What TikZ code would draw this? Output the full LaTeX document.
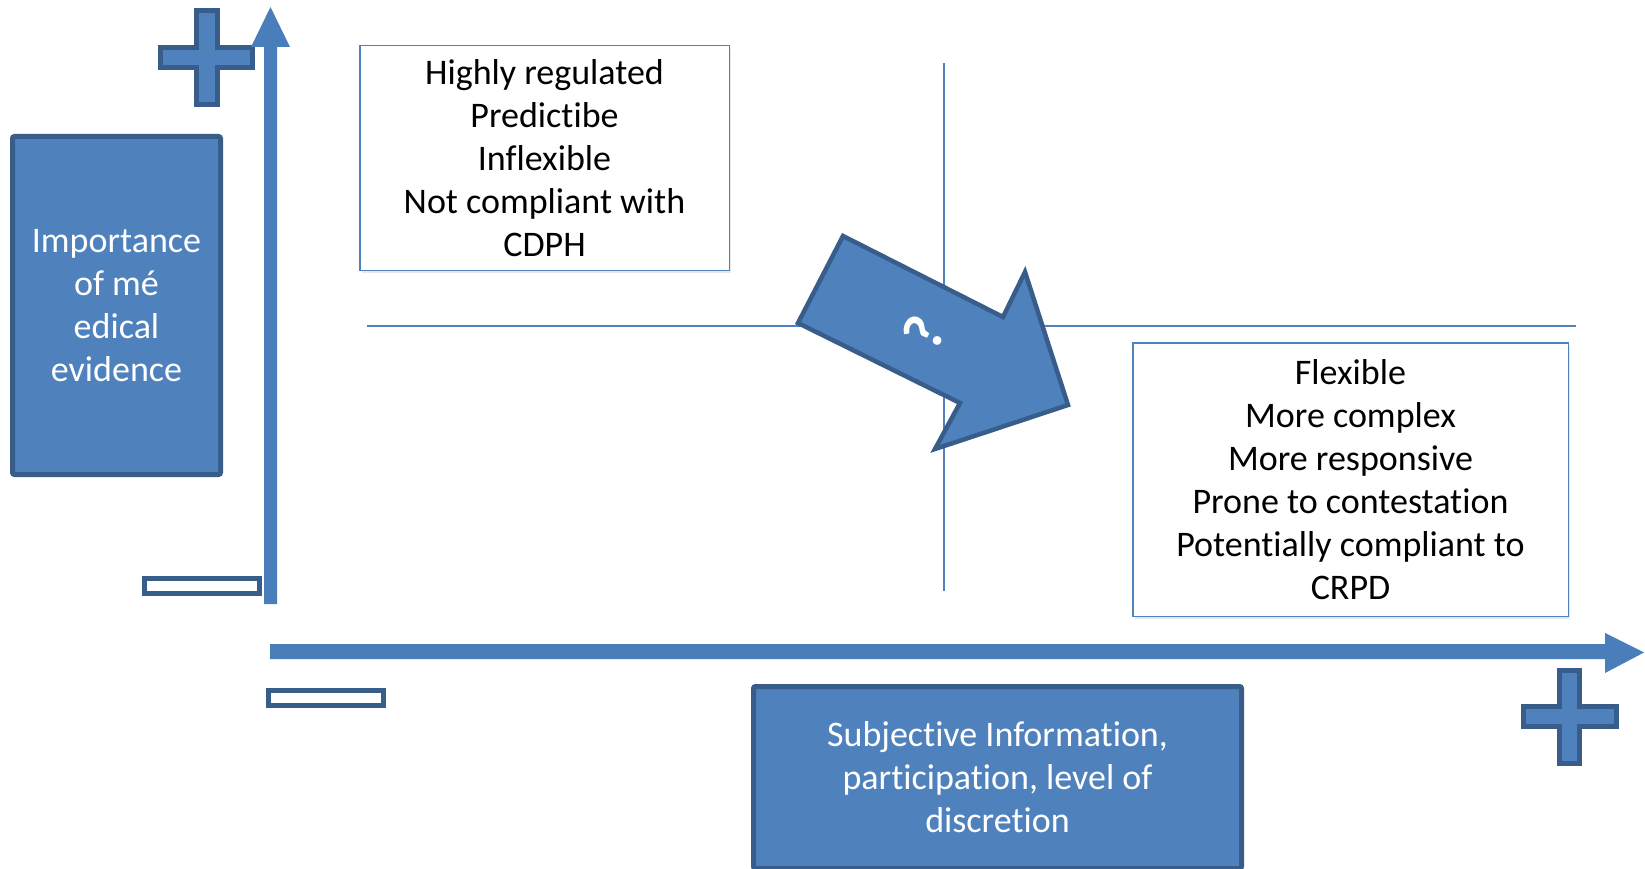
\documentclass[tikz,border=0pt]{standalone}
\usepackage{fontspec}
\setmainfont{Carlito}[Ligatures=NoCommon]
\usetikzlibrary{shadows}
\definecolor{accent}{RGB}{79,129,189}
\definecolor{accentdark}{RGB}{56,93,138}
\definecolor{axisblue}{RGB}{74,126,187}
\tikzset{
  x=1pt, y=-1pt,
  bluebox/.style={draw=accentdark, line width=5pt, fill=accent, rounded corners=2pt,
    text=white, align=center, inner sep=0pt, font=\fontsize{36}{43}\selectfont},
  textbox/.style={draw=accent, line width=1.5pt, fill=white, align=center, inner sep=0pt,
    font=\fontsize{36}{43}\selectfont,
    drop shadow={shadow xshift=2pt, shadow yshift=-3pt, opacity=0.18}},
  signshape/.style={draw=accentdark, line width=5pt, fill=accent},
  minusshape/.style={draw=accentdark, line width=5pt, fill=white},
  axisfill/.style={fill=axisblue},
  quadline/.style={draw=accent, line width=1.5pt},
}
\begin{document}
\begin{tikzpicture}
\clip (0,0) rectangle (1645,869);
\fill[white] (0,0) rectangle (1645,869);

% quadrant lines
\coordinate (vt) at (944,63);
\coordinate (vb) at (944,591);
\coordinate (hl) at (367,326);
\coordinate (hr) at (1576,326);
\draw[quadline] (vt) -- (vb);
\draw[quadline] (hl) -- (hr);

% plus signs
\path[signshape] (196.5,10.5) -- (217.5,10.5) -- (217.5,47.5) -- (252.5,47.5) -- (252.5,67.5)
  -- (217.5,67.5) -- (217.5,104.5) -- (196.5,104.5) -- (196.5,67.5) -- (160.5,67.5)
  -- (160.5,47.5) -- (196.5,47.5) -- cycle;
\path[signshape] (1559.5,670.5) -- (1579.5,670.5) -- (1579.5,706.5) -- (1616.5,706.5) -- (1616.5,726.5)
  -- (1579.5,726.5) -- (1579.5,763.5) -- (1559.5,763.5) -- (1559.5,726.5) -- (1523.5,726.5)
  -- (1523.5,706.5) -- (1559.5,706.5) -- cycle;

% minus signs
\path[minusshape] (144.5,578.5) rectangle (259.5,593.5);
\path[minusshape] (268.5,690.5) rectangle (383.5,705.5);

% axes
\path[axisfill] (264,604) -- (264,47) -- (251,47) -- (270.5,7) -- (290,47) -- (277,47) -- (277,604) -- cycle;
\path[axisfill] (270,644) -- (1605,644) -- (1605,633) -- (1644,652.5) -- (1605,673) -- (1605,659) -- (270,659) -- cycle;

% axis labels
\node[bluebox, minimum width=208pt, minimum height=338pt] (ylab) at (116.5,305.5)
  {Importance\\of mé\\edical\\evidence};
\node[bluebox, minimum width=488pt, minimum height=182pt] (xlab) at (997.5,777.5)
  {Subjective Information,\\participation, level of\\discretion};

% quadrant descriptions
\node[textbox, minimum width=369.5pt, minimum height=224.5pt] (topleft) at (544.5,158)
  {Highly regulated\\Predictibe\\Inflexible\\Not compliant with\\CDPH};
\node[textbox, minimum width=435.5pt, minimum height=273.5pt] (botright) at (1350.5,479.5)
  {Flexible\\More complex\\More responsive\\Prone to contestation\\Potentially compliant to\\CRPD};

% transition arrow
\path[signshape, line width=4.5pt, line join=miter] (843,236) -- (1003,317) -- (1025,272) -- (1068,405)
  -- (935,449) -- (960,403) -- (798,323) -- cycle;
\node[text=white, font=\bfseries\fontsize{58}{58}\selectfont, rotate=63] (q) at (924,333) {?};
\end{tikzpicture}
\end{document}
